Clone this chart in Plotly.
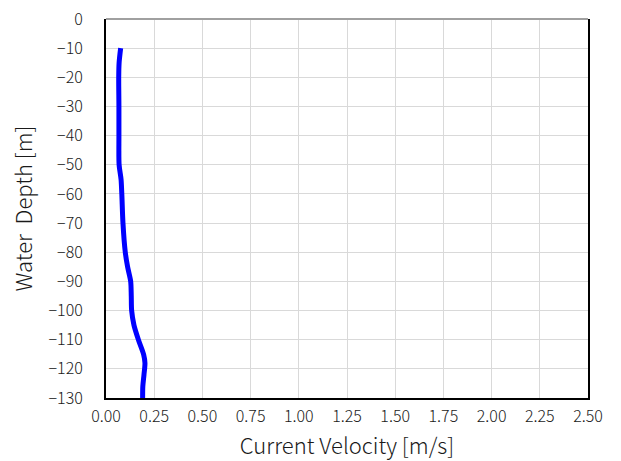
import plotly.graph_objects as go

# Current velocity profile through the water column
depth_m = [-10, -15, -20, -30, -40, -50, -55, -60, -70, -80, -85, -90, -95,
           -100, -105, -110, -115, -118, -122, -126, -130]
velocity_ms = [0.076, 0.068, 0.066, 0.067, 0.067, 0.068, 0.078, 0.082, 0.088,
               0.100, 0.112, 0.128, 0.131, 0.133, 0.145, 0.168, 0.195, 0.202,
               0.197, 0.191, 0.190]

x_ticks = [0.00, 0.25, 0.50, 0.75, 1.00, 1.25, 1.50, 1.75, 2.00, 2.25, 2.50]
y_ticks = list(range(0, -140, -10))

FONT = "Noto Sans CJK KR, Malgun Gothic, sans-serif"

fig = go.Figure()
fig.add_trace(go.Scatter(
    x=velocity_ms, y=depth_m, mode="lines",
    line=dict(color="#0000FF", width=5, shape="spline", smoothing=0.8),
    showlegend=False,
))

fig.update_layout(
    width=621, height=461,
    margin=dict(l=106, r=33, t=19, b=63),
    paper_bgcolor="white", plot_bgcolor="white",
    font=dict(family=FONT, color="#1a1a1a", size=16, weight=300),
)
fig.update_xaxes(
    range=[0, 2.5], tickvals=x_ticks, tickformat=".2f", automargin=False,
    showgrid=True, gridcolor="#d9d9d9", gridwidth=1,
    showline=True, linecolor="black", linewidth=2, mirror=False,
    zeroline=False, ticks="", ticklabelstandoff=3,
    title=dict(text="Current Velocity [m/s]", font=dict(size=22, weight=300),
               standoff=12),
)
fig.update_yaxes(
    range=[-130, 0], tickvals=y_ticks, automargin=False,
    showgrid=True, gridcolor="#d9d9d9", gridwidth=1,
    showline=True, linecolor="black", linewidth=2, mirror=True,
    zeroline=False, ticks="", ticklabelstandoff=18,
    title=dict(text="Water  Depth [m]", font=dict(size=22, weight=300),
               standoff=10),
)
# lighter frame edge along the top of the plot
fig.add_shape(type="line", xref="paper", yref="paper", x0=0, x1=1, y0=1, y1=1,
              line=dict(color="#a0a0a0", width=2))

fig.write_html("out.html")
